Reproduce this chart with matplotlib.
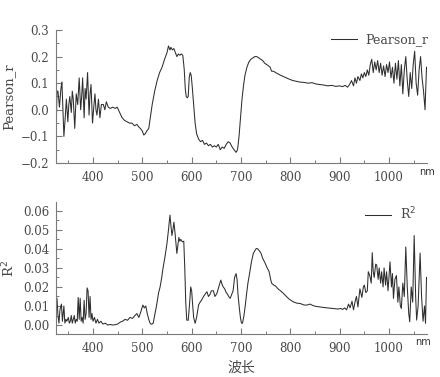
import matplotlib
matplotlib.use("Agg")
import matplotlib.pyplot as plt
from matplotlib.ticker import MultipleLocator, FuncFormatter

# ---------------- data ----------------
wl_r = [325, 327, 329, 332, 335, 337, 341, 344, 346, 349,
        351, 353, 356, 358, 360, 363, 366, 369, 372, 375,
        377, 379, 382, 384, 386, 389, 392, 394, 396, 399,
        402, 404, 406, 408, 411, 414, 417, 421, 424, 427,
        431, 435, 440, 445, 449, 454, 459, 464, 469, 474,
        479, 484, 489, 493, 496, 500, 503, 506, 509, 513,
        517, 520, 525, 530, 535, 540, 545, 550, 553, 556,
        558, 561, 564, 567, 570, 573, 576, 579, 582, 585,
        587, 589, 591, 593, 595, 597, 599, 601, 604, 607,
        610, 614, 618, 622, 626, 630, 634, 638, 642, 646,
        650, 654, 658, 662, 666, 670, 674, 678, 682, 686,
        690, 693, 696, 699, 702, 705, 708, 712, 716, 720,
        724, 728, 732, 736, 740, 744, 748, 752, 756, 759,
        762, 766, 770, 775, 780, 786, 792, 798, 805, 812,
        820, 828, 836, 844, 852, 860, 868, 876, 884, 892,
        900, 906, 911, 916, 920, 924, 928, 931, 934, 937,
        941, 944, 947, 950, 953, 956, 959, 962, 965, 968,
        971, 974, 977, 980, 983, 986, 989, 992, 995, 998,
        1001, 1004, 1007, 1010, 1013, 1016, 1019, 1022, 1025, 1028,
        1031, 1034, 1037, 1040, 1043, 1046, 1049, 1052, 1055, 1058,
        1061, 1064, 1067, 1070, 1073, 1076]
pearson_r = [-0.11, 0.07, 0.07, 0.01, 0.08, 0.105, -0.10, -0.02, 0.04, -0.045,
             0.02, 0.05, -0.01, 0.07, 0.04, -0.07, 0.06, 0.02, 0.12, 0.0,
             0.05, 0.12, -0.03, 0.08, 0.04, 0.14, -0.02, 0.06, 0.095, -0.05,
             0.02, 0.06, 0.0, -0.02, 0.04, -0.03, 0.02, 0.02, 0.0, 0.03,
             0.01, 0.005, 0.01, 0.005, 0.01, -0.01, -0.03, -0.04, -0.045, -0.05,
             -0.05, -0.06, -0.055, -0.065, -0.07, -0.08, -0.095, -0.09, -0.08, -0.07,
             -0.02, 0.02, 0.07, 0.11, 0.14, 0.16, 0.19, 0.215, 0.24, 0.225,
             0.235, 0.225, 0.23, 0.215, 0.2, 0.21, 0.205, 0.21, 0.205, 0.15,
             0.08, 0.05, 0.045, 0.05, 0.12, 0.14, 0.13, 0.09, 0.02, -0.05,
             -0.09, -0.11, -0.12, -0.115, -0.13, -0.125, -0.135, -0.13, -0.14, -0.135,
             -0.14, -0.13, -0.15, -0.14, -0.145, -0.13, -0.12, -0.125, -0.14, -0.15,
             -0.16, -0.15, -0.1, -0.03, 0.04, 0.09, 0.13, 0.16, 0.18, 0.19,
             0.195, 0.2, 0.2, 0.195, 0.19, 0.185, 0.175, 0.17, 0.165, 0.16,
             0.145, 0.145, 0.14, 0.135, 0.13, 0.125, 0.12, 0.115, 0.11, 0.107,
             0.104, 0.103, 0.1, 0.102, 0.097, 0.095, 0.093, 0.09, 0.092, 0.088,
             0.09, 0.087, 0.092, 0.085, 0.095, 0.11, 0.09, 0.12, 0.1, 0.125,
             0.11, 0.135, 0.12, 0.14, 0.125, 0.15, 0.13, 0.17, 0.19, 0.14,
             0.18, 0.15, 0.185, 0.14, 0.175, 0.13, 0.165, 0.125, 0.17, 0.14,
             0.18, 0.12, 0.16, 0.1, 0.175, 0.115, 0.185, 0.09, 0.17, 0.06,
             0.15, 0.2, 0.11, 0.05, 0.14, 0.08, 0.17, 0.22, 0.1, 0.055,
             0.15, 0.2, 0.12, 0.07, 0.0, 0.16]

wl_r2 = [325, 327, 329, 331, 333, 336, 338, 341, 343, 345,
         347, 350, 352, 354, 356, 358, 360, 362, 364, 366,
         368, 370, 372, 374, 376, 378, 380, 382, 384, 386,
         388, 390, 392, 394, 396, 398, 400, 403, 406, 409,
         412, 416, 420, 425, 430, 435, 440, 445, 450, 455,
         460, 465, 470, 475, 480, 485, 489, 493, 497, 501,
         504, 507, 510, 513, 516, 519, 522, 525, 529, 533,
         536, 539, 542, 546, 550, 553, 556, 558, 560, 562,
         564, 566, 568, 570, 572, 574, 576, 578, 581, 584,
         586, 588, 590, 593, 596, 598, 600, 602, 604, 607,
         610, 614, 617, 620, 624, 628, 631, 634, 637, 640,
         644, 647, 651, 655, 659, 662, 664, 667, 670, 672,
         675, 678, 681, 684, 687, 690, 692, 694, 697, 699,
         701, 703, 706, 709, 711, 714, 718, 721, 725, 728,
         731, 734, 737, 740, 744, 748, 752, 755, 757, 760,
         762, 766, 770, 775, 780, 786, 792, 798, 806, 813,
         820, 828, 834, 840, 846, 852, 860, 868, 876, 884,
         890, 896, 902, 906, 910, 914, 918, 921, 925, 928,
         931, 934, 937, 941, 945, 948, 950, 953, 956, 958,
         961, 964, 966, 968, 970, 973, 975, 978, 980, 983,
         985, 988, 990, 993, 995, 998, 1000, 1002, 1005, 1007,
         1009, 1012, 1015, 1018, 1020, 1023, 1025, 1028, 1031, 1034,
         1037, 1040, 1042, 1045, 1048, 1051, 1054, 1056, 1059, 1063,
         1066, 1069, 1072, 1074, 1076]
r_squared = [0.003, 0.014, 0.005, 0.001, 0.008, 0.011, 0.002, 0.01, 0.001, 0.003,
             0.002, 0.004, 0.001, 0.002, 0.005, 0.001, 0.003, 0.005, 0.001, 0.003,
             0.002, 0.0145, 0.003, 0.014, 0.002, 0.004, 0.001, 0.013, 0.003, 0.006,
             0.0195, 0.018, 0.004, 0.015, 0.003, 0.006, 0.002, 0.004, 0.001, 0.003,
             0.001, 0.002, 0.0005, 0.001, 0.0, 0.0003, 0.0, 0.0002, 0.0005, 0.0015,
             0.002, 0.003, 0.0025, 0.004, 0.0035, 0.005, 0.006, 0.004, 0.007, 0.0105,
             0.009, 0.01, 0.006, 0.003, 0.0008, 0.0004, 0.001, 0.005, 0.0105, 0.017,
             0.02, 0.0245, 0.03, 0.036, 0.043, 0.05, 0.0577, 0.052, 0.047, 0.05,
             0.054, 0.049, 0.043, 0.0376, 0.042, 0.046, 0.044, 0.045, 0.0437, 0.044,
             0.03, 0.012, 0.0026, 0.0025, 0.012, 0.02, 0.018, 0.0105, 0.004, 0.0009,
             0.004, 0.0105, 0.012, 0.013, 0.015, 0.0165, 0.0175, 0.015, 0.016, 0.018,
             0.018, 0.015, 0.0165, 0.02, 0.0236, 0.021, 0.02, 0.019, 0.017, 0.0165,
             0.015, 0.014, 0.016, 0.018, 0.025, 0.027, 0.024, 0.0157, 0.008, 0.0035,
             0.001, 0.0009, 0.005, 0.011, 0.0157, 0.022, 0.028, 0.033, 0.0376, 0.039,
             0.0402, 0.040, 0.039, 0.038, 0.035, 0.033, 0.0306, 0.029, 0.028, 0.024,
             0.022, 0.021, 0.0205, 0.019, 0.018, 0.0166, 0.015, 0.0135, 0.0122, 0.0115,
             0.0113, 0.0105, 0.0105, 0.011, 0.0102, 0.0098, 0.0095, 0.0092, 0.009, 0.0088,
             0.0086, 0.0084, 0.0087, 0.0082, 0.009, 0.008, 0.011, 0.009, 0.0125, 0.008,
             0.012, 0.015, 0.0095, 0.019, 0.0145, 0.02, 0.021, 0.017, 0.018, 0.028,
             0.026, 0.022, 0.038, 0.028, 0.025, 0.032, 0.0315, 0.024, 0.03, 0.022,
             0.028, 0.02, 0.03, 0.021, 0.028, 0.018, 0.026, 0.0332, 0.02, 0.027,
             0.014, 0.024, 0.026, 0.012, 0.02, 0.01, 0.0087, 0.022, 0.015, 0.041,
             0.02, 0.006, 0.0017, 0.02, 0.012, 0.047, 0.015, 0.0026, 0.01, 0.0378,
             0.015, 0.002, 0.01, 0.0009, 0.025]

x_ticks = [400, 500, 600, 700, 800, 900, 1000]
r_ticks = [-0.2, -0.1, 0.0, 0.1, 0.2, 0.3]
r2_ticks = [0.00, 0.01, 0.02, 0.03, 0.04, 0.05, 0.06]

assert len(wl_r) == len(pearson_r)
assert len(wl_r2) == len(r_squared)

# ---------------- style ----------------
serif = ['DejaVu Serif']
txt_col = '#4a4a4a'
line_col = '#2e2e2e'
spine_col = '#7a7a7a'

fig = plt.figure(figsize=(4.40, 3.77), dpi=100)
ax1 = fig.add_axes([56/440, 1-163/377, (427-56)/440, (163-30)/377])
ax2 = fig.add_axes([56/440, 1-334/377, (427-56)/440, (334-202)/377])


def style(ax, fmt):
    for s in ['top', 'right']:
        ax.spines[s].set_visible(False)
    for s in ['left', 'bottom']:
        ax.spines[s].set_color(spine_col)
        ax.spines[s].set_linewidth(0.8)
    ax.set_xlim(325, 1077)
    ax.set_xticks(x_ticks)
    ax.xaxis.set_minor_locator(MultipleLocator(50))
    ax.tick_params(which='both', direction='in', colors=spine_col,
                   labelcolor=txt_col, labelsize=8.5)
    ax.tick_params(which='major', length=4, width=0.8)
    ax.tick_params(which='minor', length=2.5, width=0.7)
    ax.tick_params(axis='x', pad=6)
    ax.tick_params(axis='y', pad=5)
    ax.yaxis.set_major_formatter(FuncFormatter(fmt))
    for lab in ax.get_xticklabels() + ax.get_yticklabels():
        lab.set_family(serif)


ax1.plot(wl_r, pearson_r, color=line_col, lw=0.75, label='Pearson_r')
ax1.set_ylim(-0.2, 0.3)
ax1.set_yticks(r_ticks)
ax1.yaxis.set_minor_locator(MultipleLocator(0.05))
style(ax1, lambda v, p: f"{v:.1f}".replace('-', '\u2212'))
ax1.set_ylabel('Pearson_r', family=serif, fontsize=9.5, color=txt_col, labelpad=4)
ax1.legend(loc='upper right', bbox_to_anchor=(1.035, 1.06), frameon=False,
           prop={'family': serif, 'size': 9}, handlelength=2.1,
           handletextpad=0.7, labelcolor=txt_col)
ax1.text(1.0, -0.07, 'nm', transform=ax1.transAxes, ha='center', va='center',
         fontsize=7, color='#333333', family='DejaVu Sans')

ax2.plot(wl_r2, r_squared, color=line_col, lw=0.75, label='R$^2$')
ax2.set_ylim(-0.0047, 0.0646)
ax2.set_yticks(r2_ticks)
ax2.yaxis.set_minor_locator(MultipleLocator(0.005))
style(ax2, lambda v, p: f"{v:.2f}")
ax2.set_ylabel('R$^2$', family=serif, fontsize=9.5, color=txt_col, labelpad=4)
ax2.legend(loc='upper right', bbox_to_anchor=(1.0, 1.06), frameon=False,
           prop={'family': serif, 'size': 9}, handlelength=2.1,
           handletextpad=0.7, labelcolor=txt_col)
ax2.text(0.99, -0.06, 'nm', transform=ax2.transAxes, ha='center', va='center',
         fontsize=7, color='#333333', family='DejaVu Sans')
ax2.set_xlabel('波长', family=['Noto Sans CJK SC', 'DejaVu Sans'], fontsize=10,
               color=txt_col, labelpad=4)

fig.savefig('out.png', dpi=100, facecolor='white')
